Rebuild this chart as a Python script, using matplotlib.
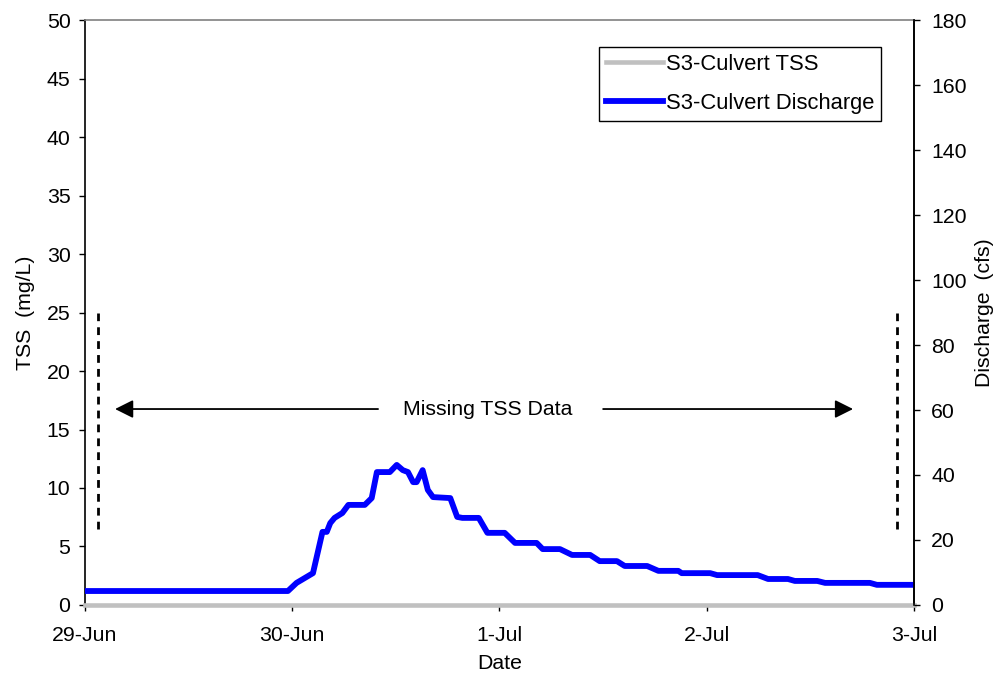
import matplotlib.pyplot as plt

plt.rcParams["font.family"] = ["Liberation Sans", "DejaVu Sans"]

# time since 29-Jun 00:00 in hours, discharge in cfs
discharge_hours = [0, 23.5, 24.5, 26.4, 27.5, 28, 28.4, 28.9, 29.8, 30.5, 32.4, 33.2, 33.8,
                   35.3, 36.1, 36.8, 37.4, 38, 38.4, 39.1, 39.7, 40.3, 42.3, 43.1, 43.7,
                   45.6, 46.6, 48.6, 49.8, 52.3, 53, 55, 56.4, 58.5, 59.6, 61.6, 62.5,
                   65.1, 66.4, 68.7, 69.1, 72.4, 73.2, 77.9, 79.1, 81.4, 82.2, 84.8, 85.7,
                   90.9, 91.7, 95.8]
discharge_cfs = [4.3, 4.3, 6.8, 9.8, 22.5, 22.5, 25.2, 26.8, 28.3, 30.8, 30.8, 32.9, 40.9,
                 40.9, 43.1, 41.5, 40.9, 37.8, 37.8, 41.5, 35.4, 33.2, 32.9, 27.1, 26.8,
                 26.8, 22.2, 22.2, 19.1, 19.1, 17.2, 17.2, 15.4, 15.4, 13.5, 13.5, 12.0,
                 12.0, 10.5, 10.5, 9.8, 9.8, 9.2, 9.2, 8.0, 8.0, 7.4, 7.4, 6.8,
                 6.8, 6.2, 6.2]

tss_hours = [0, 96]
tss_mgl = [0, 0]

date_labels = ["29-Jun", "30-Jun", "1-Jul", "2-Jul", "3-Jul"]

# extent of the gap in TSS record (days, mg/L)
gap_marks = [0.063, 3.92]
gap_span = [6.5, 25]
arrow_level = 16.75
arrow_left = [1.414, 0.145]
arrow_right = [2.50, 3.706]

FS = 15.3

fig = plt.figure(figsize=(10, 6.79), dpi=100)
ax = fig.add_axes([0.085, 0.109, 0.829, 0.8615])
ax2 = ax.twinx()

tss_line, = ax.plot([h / 24 for h in tss_hours], tss_mgl, color="#c0c0c0", lw=3.3,
                    clip_on=False, zorder=3, label="S3-Culvert TSS")
q_line, = ax2.plot([h / 24 for h in discharge_hours], discharge_cfs, color="#0000ff",
                   lw=4.2, solid_joinstyle="round", label="S3-Culvert Discharge")

for xm in gap_marks:
    ax.plot([xm, xm], gap_span, color="black", lw=2.0, linestyle=(0, (2.8, 2.2)))

ax.text(1.945, arrow_level, "Missing TSS Data", ha="center", va="center", fontsize=FS)
arrow_props = dict(arrowstyle="-|>,head_length=1.1,head_width=0.55", color="black",
                   lw=1.3, shrinkA=0, shrinkB=0)
ax.annotate("", xy=(arrow_left[1], arrow_level), xytext=(arrow_left[0], arrow_level),
            arrowprops=arrow_props)
ax.annotate("", xy=(arrow_right[1], arrow_level), xytext=(arrow_right[0], arrow_level),
            arrowprops=arrow_props)

ax.set_xlim(0, 4)
ax.set_ylim(0, 50)
ax2.set_ylim(0, 180)
ax.set_xticks(range(len(date_labels)))
ax.set_xticklabels(date_labels)
ax.set_yticks(range(0, 51, 5))
ax2.set_yticks(range(0, 181, 20))

ax.tick_params(axis="x", direction="out", length=4, width=1, labelsize=FS, pad=11)
ax.tick_params(axis="y", direction="out", length=4.5, width=1, labelsize=FS, pad=6)
ax2.tick_params(axis="y", direction="out", length=4.5, width=1, labelsize=FS, pad=8)

ax.spines["top"].set_color("#808080")
for side in ("top", "left", "right", "bottom"):
    ax.spines[side].set_linewidth(1.2)
for side in ("top", "left", "bottom"):
    ax2.spines[side].set_visible(False)
ax2.spines["right"].set_linewidth(1.2)

ax.set_xlabel("Date", fontsize=FS)
ax.set_ylabel("TSS  (mg/L)", fontsize=FS)
ax2.set_ylabel("Discharge  (cfs)", fontsize=FS)
ax.xaxis.set_label_coords(0.5, -0.083)
ax.yaxis.set_label_coords(-0.06, 0.5)
ax2.yaxis.set_label_coords(1.074, 0.5)

leg = ax2.legend(handles=[tss_line, q_line], loc="upper right",
                 bbox_to_anchor=(0.960, 0.954), borderaxespad=0, fontsize=15.8,
                 fancybox=False, framealpha=1, edgecolor="black", handlelength=2.6,
                 handletextpad=0.15, borderpad=0.3, labelspacing=0.85)
leg.get_frame().set_linewidth(1.0)

fig.savefig("out.png", dpi=100)
